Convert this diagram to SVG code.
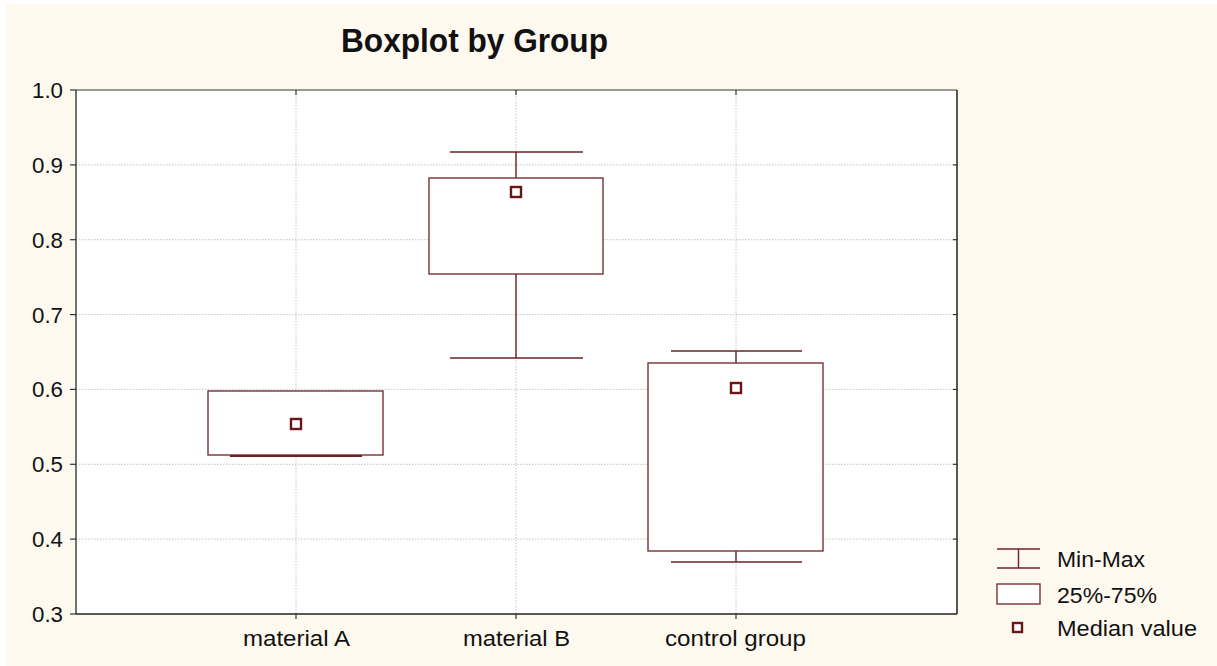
<svg xmlns="http://www.w3.org/2000/svg" width="1217" height="666" viewBox="0 0 1217 666">
<style>
.lbl{font-family:"Liberation Sans",Arial,sans-serif;font-size:22px;fill:#111}
.ttl{font-family:"Liberation Sans",Arial,sans-serif;font-size:34px;font-weight:bold;fill:#111}
.grid{stroke:#c4c4c4;stroke-width:1;stroke-dasharray:1.5 1.5;fill:none}
.bx{stroke:#7a3035;stroke-width:1.4;fill:#fff}
.wh{stroke:#6e2226;stroke-width:1.4;fill:none}
.med{stroke:#6a1518;stroke-width:2.4;fill:#fff}
.tick{stroke:#333;stroke-width:1.2}
</style>
<rect x="0" y="0" width="1217" height="666" fill="#ffffff"/>
<rect x="6" y="4" width="1211" height="662" fill="#fdf9ef"/>
<text class="ttl" x="341" y="52" textLength="267" lengthAdjust="spacingAndGlyphs">Boxplot by Group</text>
<g id="plot-area">
<rect x="76" y="90" width="881" height="524" fill="#ffffff"/>
<g id="gridlines">
<line class="grid" x1="76" y1="164.9" x2="957" y2="164.9"/>
<line class="grid" x1="76" y1="239.7" x2="957" y2="239.7"/>
<line class="grid" x1="76" y1="314.6" x2="957" y2="314.6"/>
<line class="grid" x1="76" y1="389.4" x2="957" y2="389.4"/>
<line class="grid" x1="76" y1="464.3" x2="957" y2="464.3"/>
<line class="grid" x1="76" y1="539.1" x2="957" y2="539.1"/>
<line class="grid" x1="296" y1="90" x2="296" y2="614"/>
<line class="grid" x1="516" y1="90" x2="516" y2="614"/>
<line class="grid" x1="736" y1="90" x2="736" y2="614"/>
</g>
<line x1="76" y1="90" x2="957" y2="90" stroke="#777" stroke-width="1.5"/>
<line x1="76" y1="90" x2="76" y2="614" stroke="#444" stroke-width="1.5"/>
<line x1="957" y1="90" x2="957" y2="614" stroke="#222" stroke-width="1.5"/>
<line x1="76" y1="614" x2="957" y2="614" stroke="#222" stroke-width="1.5"/>
<g id="ticks">
<line class="tick" x1="70" y1="90" x2="76" y2="90"/>
<line class="tick" x1="70" y1="164.9" x2="76" y2="164.9"/>
<line class="tick" x1="70" y1="239.7" x2="76" y2="239.7"/>
<line class="tick" x1="70" y1="314.6" x2="76" y2="314.6"/>
<line class="tick" x1="70" y1="389.4" x2="76" y2="389.4"/>
<line class="tick" x1="70" y1="464.3" x2="76" y2="464.3"/>
<line class="tick" x1="70" y1="539.1" x2="76" y2="539.1"/>
<line class="tick" x1="70" y1="614" x2="76" y2="614"/>
<line class="tick" x1="953" y1="164.9" x2="957" y2="164.9"/>
<line class="tick" x1="953" y1="239.7" x2="957" y2="239.7"/>
<line class="tick" x1="953" y1="314.6" x2="957" y2="314.6"/>
<line class="tick" x1="953" y1="389.4" x2="957" y2="389.4"/>
<line class="tick" x1="953" y1="464.3" x2="957" y2="464.3"/>
<line class="tick" x1="953" y1="539.1" x2="957" y2="539.1"/>
<line class="tick" x1="296" y1="90" x2="296" y2="95"/>
<line class="tick" x1="516" y1="90" x2="516" y2="95"/>
<line class="tick" x1="736" y1="90" x2="736" y2="95"/>
<line class="tick" x1="296" y1="614" x2="296" y2="619"/>
<line class="tick" x1="516" y1="614" x2="516" y2="619"/>
<line class="tick" x1="736" y1="614" x2="736" y2="619"/>
</g>
</g>
<g id="y-labels">
<text class="lbl" x="63" y="98" text-anchor="end" textLength="31" lengthAdjust="spacingAndGlyphs">1.0</text>
<text class="lbl" x="63" y="172.9" text-anchor="end" textLength="31" lengthAdjust="spacingAndGlyphs">0.9</text>
<text class="lbl" x="63" y="247.7" text-anchor="end" textLength="31" lengthAdjust="spacingAndGlyphs">0.8</text>
<text class="lbl" x="63" y="322.6" text-anchor="end" textLength="31" lengthAdjust="spacingAndGlyphs">0.7</text>
<text class="lbl" x="63" y="397.4" text-anchor="end" textLength="31" lengthAdjust="spacingAndGlyphs">0.6</text>
<text class="lbl" x="63" y="472.3" text-anchor="end" textLength="31" lengthAdjust="spacingAndGlyphs">0.5</text>
<text class="lbl" x="63" y="547.1" text-anchor="end" textLength="31" lengthAdjust="spacingAndGlyphs">0.4</text>
<text class="lbl" x="63" y="622" text-anchor="end" textLength="31" lengthAdjust="spacingAndGlyphs">0.3</text>
</g>
<g id="x-labels">
<text class="lbl" x="243" y="646" textLength="107" lengthAdjust="spacingAndGlyphs">material A</text>
<text class="lbl" x="463" y="646" textLength="107" lengthAdjust="spacingAndGlyphs">material B</text>
<text class="lbl" x="665" y="646" textLength="141" lengthAdjust="spacingAndGlyphs">control group</text>
</g>
<g id="box-materialA">
<rect class="bx" x="208" y="391" width="175" height="64"/>
<line x1="230" y1="456" x2="362" y2="456" stroke="#6e2226" stroke-width="2.2"/>
<rect class="med" x="291" y="419" width="10" height="10"/>
</g>
<g id="box-materialB">
<line class="wh" x1="450" y1="152" x2="583" y2="152"/>
<line class="wh" x1="516" y1="152" x2="516" y2="178"/>
<line class="wh" x1="516" y1="274" x2="516" y2="358"/>
<line class="wh" x1="450" y1="358" x2="583" y2="358"/>
<rect class="bx" x="429" y="178" width="174" height="96"/>
<rect class="med" x="511" y="187" width="10" height="10"/>
</g>
<g id="box-control">
<line class="wh" x1="671" y1="351" x2="802" y2="351"/>
<line class="wh" x1="736" y1="351" x2="736" y2="363"/>
<line class="wh" x1="736" y1="551" x2="736" y2="562"/>
<line class="wh" x1="671" y1="562" x2="802" y2="562"/>
<rect class="bx" x="648" y="363" width="175" height="188"/>
<rect class="med" x="731" y="383" width="10" height="10"/>
</g>
<g id="legend">
<line class="wh" x1="997" y1="549" x2="1040" y2="549"/>
<line class="wh" x1="1018.5" y1="549" x2="1018.5" y2="568"/>
<line class="wh" x1="997" y1="568" x2="1040" y2="568"/>
<text class="lbl" x="1057" y="567" textLength="88" lengthAdjust="spacingAndGlyphs">Min-Max</text>
<rect class="bx" x="997" y="584" width="43" height="20"/>
<text class="lbl" x="1057" y="603" textLength="100" lengthAdjust="spacingAndGlyphs">25%-75%</text>
<rect class="med" x="1013" y="623" width="9" height="9"/>
<text class="lbl" x="1057" y="636" textLength="140" lengthAdjust="spacingAndGlyphs">Median value</text>
</g>
</svg>
